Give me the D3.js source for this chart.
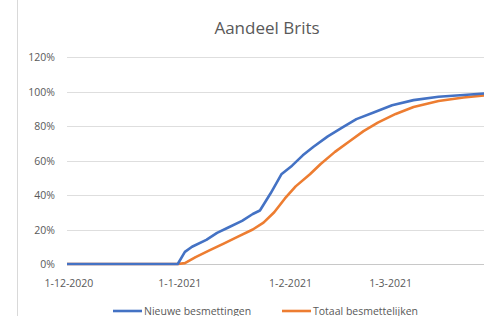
<!DOCTYPE html>
<html>
<head>
<meta charset="utf-8">
<script src="https://cdn.jsdelivr.net/npm/d3@7"></script>
<style>
  body { margin: 0; background: #fff; }
  text { font-family: "Open Sans", "Liberation Sans", sans-serif; fill: #595959; }
</style>
</head>
<body>
<svg id="chart" width="484" height="316"></svg>
<script>
// data (share of British variant, %)
const nieuweDates = ["2020-12-01", "2021-01-01", "2021-01-03", "2021-01-05", "2021-01-09", "2021-01-12",
  "2021-01-15", "2021-01-19", "2021-01-22", "2021-01-24", "2021-01-27", "2021-01-30", "2021-02-02",
  "2021-02-05", "2021-02-08", "2021-02-12", "2021-02-16", "2021-02-20", "2021-02-25", "2021-03-02",
  "2021-03-08", "2021-03-15", "2021-03-22", "2021-03-29"];
const nieuweValues = [0, 0, 7, 10, 14, 18, 21, 25, 29, 31, 41, 52, 57, 63, 68, 74, 79, 84, 88, 92, 95, 97, 98, 99];

const totaalDates = ["2020-12-01", "2021-01-01", "2021-01-03", "2021-01-06", "2021-01-10", "2021-01-14",
  "2021-01-18", "2021-01-22", "2021-01-25", "2021-01-28", "2021-01-31", "2021-02-03", "2021-02-07",
  "2021-02-10", "2021-02-14", "2021-02-18", "2021-02-22", "2021-02-26", "2021-03-03", "2021-03-08",
  "2021-03-15", "2021-03-22", "2021-03-29"];
const totaalValues = [0, 0, 0.5, 4, 8, 12, 16, 20, 24, 30, 38, 45, 52, 58, 65, 71, 77, 82, 87, 91, 94.5, 96.5, 98];

const yTicks = [0, 20, 40, 60, 80, 100, 120];
const xTicks = ["2020-12-01", "2021-01-01", "2021-02-01", "2021-03-01"];

const svg = d3.select("#chart");
const parse = d3.timeParse("%Y-%m-%d");
const fmt = d3.timeFormat("%-d-%-m-%Y");

const x = d3.scaleTime()
  .domain([parse("2020-12-01"), parse("2021-03-28")])
  .range([67, 485]);
const y = d3.scaleLinear().domain([0, 120]).range([264, 57]);

// chart area border on the left
svg.append("line")
  .attr("x1", 17.5).attr("x2", 17.5)
  .attr("y1", 0).attr("y2", 316)
  .attr("stroke", "#d9d9d9");

svg.append("text")
  .attr("x", 267).attr("y", 34)
  .attr("text-anchor", "middle")
  .attr("font-size", 17)
  .text("Aandeel Brits");

// gridlines + y labels
const gy = svg.append("g");
gy.selectAll("line").data(yTicks).join("line")
  .attr("x1", 67).attr("x2", 484)
  .attr("y1", d => Math.round(y(d)) + 0.5).attr("y2", d => Math.round(y(d)) + 0.5)
  .attr("stroke", d => d === 0 ? "#c8c8c8" : "#dedede")
  .attr("stroke-width", 1);
gy.selectAll("text").data(yTicks).join("text")
  .attr("x", 55).attr("y", d => y(d) + 4)
  .attr("text-anchor", "end")
  .attr("font-size", 10.5)
  .text(d => d + "%");

// x labels
svg.append("g").selectAll("text").data(xTicks).join("text")
  .attr("x", d => x(parse(d)) + 2).attr("y", 287)
  .attr("text-anchor", "middle")
  .attr("font-size", 10.5)
  .text(d => fmt(parse(d)));

const line = d3.line().x(d => x(d[0])).y(d => y(d[1]));

const series = [
  { name: "Nieuwe besmettingen", color: "#4472c4", pts: d3.zip(nieuweDates.map(parse), nieuweValues) },
  { name: "Totaal besmettelijken", color: "#ed7d31", pts: d3.zip(totaalDates.map(parse), totaalValues) }
];

svg.append("g").selectAll("path").data(series.slice().reverse()).join("path")
  .attr("d", d => line(d.pts))
  .attr("fill", "none")
  .attr("stroke", d => d.color)
  .attr("stroke-width", 2.6)
  .attr("stroke-linejoin", "round");

// legend
const legendX = [113, 282];
const lg = svg.append("g").selectAll("g").data(series).join("g")
  .attr("transform", (d, i) => `translate(${legendX[i]},311)`);
lg.append("line")
  .attr("x1", 0).attr("x2", 29)
  .attr("stroke", d => d.color).attr("stroke-width", 2.6);
lg.append("text")
  .attr("x", 31).attr("y", 3.5)
  .attr("font-size", 10.5)
  .text(d => d.name);
</script>
</body>
</html>
